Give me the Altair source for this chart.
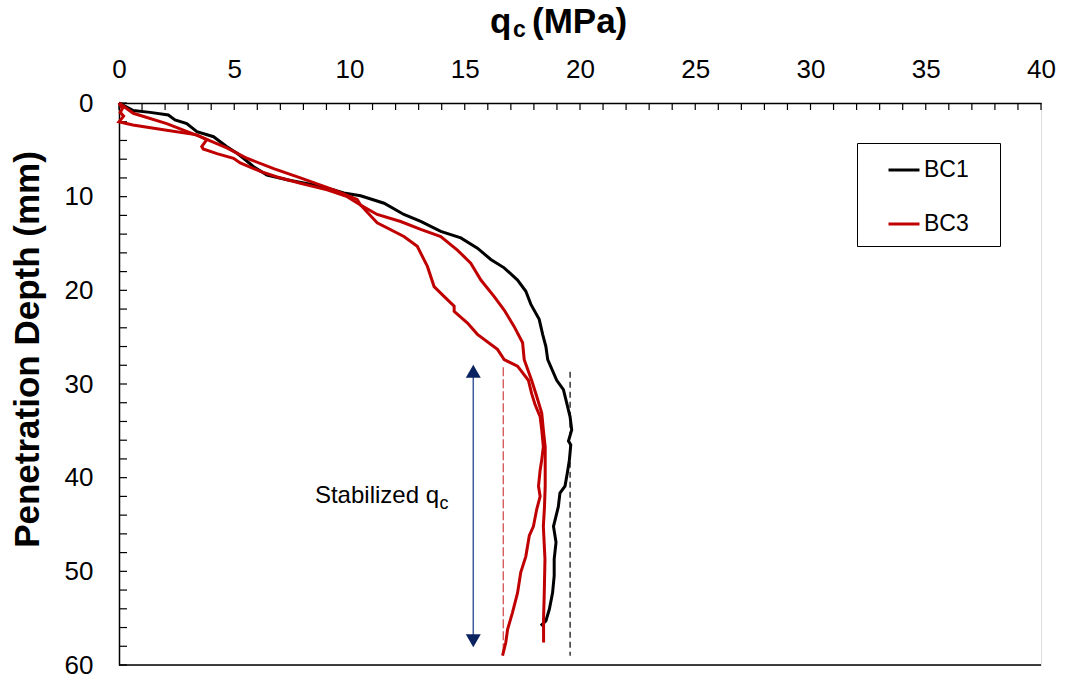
import altair as alt
import pandas as pd

# ---------------- data ----------------
bc1_q = [0, 0.62, 1.35, 2.14, 2.43, 2.94, 3.38, 4.1, 4.68, 5.12, 5.4, 5.84, 6.42, 7.29, 8.45,
         9.32, 9.75, 10.48, 11.5, 12.36, 13.09, 13.96, 14.83, 15.55, 16.13, 16.71, 17.29, 17.65,
         17.87, 18.23, 18.38, 18.52, 18.6, 18.99, 19.28, 19.42, 19.57, 19.64, 19.5, 19.6, 19.54,
         19.45, 19.35, 19.13, 19.06, 18.92, 18.85, 18.96, 18.88, 18.88, 18.81, 18.67, 18.52, 18.3]
bc1_depth = [0, 0.8, 1.0, 1.28, 1.8, 2.2, 3.06, 3.6, 4.66, 5.37, 5.9, 6.8, 7.7, 8.2, 8.74,
             9.27, 9.6, 9.9, 10.7, 11.9, 12.65, 13.7, 14.4, 15.5, 16.7, 17.6, 18.9, 20.1,
             21.5, 23.1, 24.7, 26.0, 27.4, 29.6, 30.6, 32.0, 33.5, 34.9, 36.1, 36.5, 38.1,
             39.5, 40.9, 41.65, 43.1, 44.5, 45.2, 46.9, 48.7, 50.5, 52.3, 54.05, 55.3, 55.8]

bc3a_q = [0, 0.62, 2.07, 3.52, 4.68, 5.55, 6.71, 7.87, 9.32, 10.33, 10.48, 11.2, 12.22, 13.09,
          13.96, 14.68, 15.26, 15.7, 16.27, 16.71, 17.14, 17.51, 17.58, 17.9, 18.12, 18.34, 18.41,
          18.49, 18.49, 18.49, 18.46, 18.41, 18.48, 18.45, 18.42, 18.42]
bc3a_depth = [0, 1.1, 2.2, 3.6, 4.8, 5.9, 7.0, 8.0, 9.27, 10.3, 10.9, 11.9, 12.65, 13.5,
              14.25, 15.7, 17.1, 18.9, 20.65, 22.1, 23.85, 25.6, 27.4, 29.6, 31.3, 33.1, 34.9,
              36.7, 38.8, 40.9, 43.1, 45.2, 48.7, 52.3, 55.0, 57.6]

bc3b_q = [0, 0.15, 0.05, 0.2, 0, 0.6, 2.07, 3.38, 3.81, 3.59, 3.65, 4.25, 4.97, 5.26, 6.13, 6.86,
          7.87, 9.03, 9.9, 10.48, 11.2, 12.36, 12.94, 13.38, 13.67, 14.1, 14.54, 14.54, 15.12,
          15.55, 16.42, 16.71, 17.29, 17.76, 17.9, 18.05, 18.27, 18.34, 18.41, 18.34, 18.27, 18.2,
          18.27, 18.12, 17.98, 17.8, 17.65, 17.43, 17.29, 17.07, 16.86, 16.78, 16.64]
bc3b_depth = [0, 0.6, 1.0, 1.4, 2.0, 2.35, 2.9, 3.4, 3.9, 4.66, 4.9, 5.4, 5.9, 6.4, 7.3, 7.9,
              8.56, 9.27, 10.0, 10.9, 12.8, 14.25, 15.3, 17.45, 19.6, 20.65, 21.7, 22.25, 23.5,
              24.7, 26.3, 27.4, 28.1, 29.6, 31.0, 32.2, 33.5, 34.9, 36.7, 38.1, 39.2, 40.9,
              42.0, 43.4, 45.2, 46.2, 48.4, 50.1, 52.3, 54.4, 56.2, 57.6, 59.0]

series_names = ["BC1", "BC3"]
series_colors = ["#000000", "#C00000"]

x_major = [0, 5, 10, 15, 20, 25, 30, 35, 40]
y_major = [0, 10, 20, 30, 40, 50, 60]
x_minor = list(range(0, 41, 1))
y_minor = list(range(0, 61, 2))

# stabilized-qc guide lines
red_guide_q = [16.67]
red_guide_top = [28.2]
red_guide_bottom = [59.0]
black_guide_q = [19.57]
black_guide_top = [28.7]
black_guide_bottom = [59.0]

arrow_q = [15.37]
arrow_top = [28.65]
arrow_bottom = [57.4]

ann_q = [8.5]
ann_depth = [42.7]
ann_sub_q = [13.9]
ann_sub_depth = [43.3]

# ---------------- build tables ----------------
rows = []
for run, s, qs, ds in [("BC1", "BC1", bc1_q, bc1_depth),
                       ("BC3a", "BC3", bc3a_q, bc3a_depth),
                       ("BC3b", "BC3", bc3b_q, bc3b_depth)]:
    for i, (q, d) in enumerate(zip(qs, ds)):
        rows.append({"run": run, "series": s, "i": i, "q": q, "depth": d})
df = pd.DataFrame(rows)

FONT = "Liberation Sans"
W, H = 922, 562

xscale = alt.Scale(domain=[0, 40], nice=False, zero=False)
yscale = alt.Scale(domain=[0, 60], nice=False, zero=False, reverse=True)

xaxis = alt.Axis(orient="top", values=x_major, ticks=False, tickSize=0, labelPadding=26,
                 labelBaseline="alphabetic", labelFlush=False, labelOverlap=False,
                 labelFontSize=26, labelFont=FONT, labelColor="black",
                 domainColor="black", domainWidth=1.5, grid=False)
yaxis = alt.Axis(values=y_major, ticks=False, tickSize=0, labelPadding=26,
                 labelFlush=False, labelOverlap=False, labelFontSize=26, labelFont=FONT,
                 labelColor="black", domainColor="black", domainWidth=1.5, grid=False,
                 title="Penetration Depth (mm)", titleFont=FONT, titleFontSize=35,
                 titleFontWeight="bold", titleColor="black", titleAngle=270,
                 titleX=-81, titleY=246, titleAlign="center", titleBaseline="alphabetic")


def X(field):
    return alt.X(field, type="quantitative", scale=xscale, axis=xaxis, title=None)


def Y(field):
    return alt.Y(field, type="quantitative", scale=yscale, axis=yaxis,
                 title="Penetration Depth (mm)")


# inward ticks
xticks = alt.Chart(pd.DataFrame({"q": x_minor})).mark_rule(color="black", strokeWidth=1.2).encode(
    x=X("q"), y=alt.value(0), y2=alt.value(7))
yticks = alt.Chart(pd.DataFrame({"depth": y_minor})).mark_rule(color="black", strokeWidth=1.2).encode(
    y=Y("depth"), x=alt.value(0), x2=alt.value(8))

red_guide = alt.Chart(pd.DataFrame({"q": red_guide_q, "d1": red_guide_top, "d2": red_guide_bottom})).mark_rule(
    color="#D04040", strokeWidth=1.2, strokeDash=[9, 3]).encode(x=X("q"), y=Y("d1"), y2="d2")
black_guide = alt.Chart(pd.DataFrame({"q": black_guide_q, "d1": black_guide_top, "d2": black_guide_bottom})).mark_rule(
    color="#000000", strokeWidth=1.2, strokeDash=[6, 4]).encode(x=X("q"), y=Y("d1"), y2="d2")

arrow_df = pd.DataFrame({"q": arrow_q, "d1": arrow_top, "d2": arrow_bottom})
arrow_shaft = alt.Chart(arrow_df).mark_rule(color="#3E5A98", strokeWidth=1.5).encode(
    x=X("q"), y=Y("d1"), y2="d2")
arrow_up = alt.Chart(arrow_df).mark_point(shape="triangle-up", filled=True, size=225,
                                          color="#0B2461", opacity=1).encode(x=X("q"), y=Y("d1"))
arrow_down = alt.Chart(arrow_df).mark_point(shape="triangle-down", filled=True, size=225,
                                            color="#0B2461", opacity=1).encode(x=X("q"), y=Y("d2"))

lines = alt.Chart(df).mark_line(strokeWidth=3).encode(
    x=X("q"),
    y=Y("depth"),
    color=alt.Color("series:N",
                    scale=alt.Scale(domain=series_names, range=series_colors),
                    legend=alt.Legend(title=".", titleOrient="right", titleColor="white",
                                      titleFontSize=10, titlePadding=18,
                                      orient="none", legendX=738, legendY=40,
                                      padding=10, rowPadding=25, symbolOffset=20, labelOffset=3,
                                      labelFontSize=23, labelFont=FONT, labelColor="black",
                                      symbolType="stroke", symbolSize=961, symbolStrokeWidth=3,
                                      strokeColor="black", fillColor="white")),
    detail="run:N",
    order="i:Q",
)

ann = alt.Chart(pd.DataFrame({"q": ann_q, "depth": ann_depth, "t": ["Stabilized q"]})).mark_text(
    align="left", baseline="alphabetic", fontSize=24, font=FONT, color="black").encode(
    x=X("q"), y=Y("depth"), text="t:N")
ann_sub = alt.Chart(pd.DataFrame({"q": ann_sub_q, "depth": ann_sub_depth, "t": ["c"]})).mark_text(
    align="left", baseline="alphabetic", fontSize=18, font=FONT, color="black").encode(
    x=X("q"), y=Y("depth"), text="t:N")

# top title  q_c (MPa)
t1 = alt.Chart(pd.DataFrame({"t": ["q"]})).mark_text(
    align="left", baseline="alphabetic", fontSize=35, fontWeight="bold", font=FONT, color="black").encode(
    x=alt.value(371), y=alt.value(-70), text="t:N")
t2 = alt.Chart(pd.DataFrame({"t": ["c"]})).mark_text(
    align="left", baseline="alphabetic", fontSize=23, fontWeight="bold", font=FONT, color="black").encode(
    x=alt.value(394), y=alt.value(-66), text="t:N")
t3 = alt.Chart(pd.DataFrame({"t": ["(MPa)"]})).mark_text(
    align="left", baseline="alphabetic", fontSize=35, fontWeight="bold", font=FONT, color="black").encode(
    x=alt.value(413), y=alt.value(-70), text="t:N")

bottom_border = alt.Chart(pd.DataFrame({"a": [0]})).mark_rule(color="black", strokeWidth=1.5).encode(
    x=alt.value(0), x2=alt.value(W), y=alt.value(H))

chart = alt.layer(
    xticks, yticks, red_guide, black_guide, arrow_shaft, arrow_up, arrow_down,
    lines, ann, ann_sub, t1, t2, t3, bottom_border
).properties(
    width=W, height=H,
    padding={"left": 119, "top": 103, "right": 25, "bottom": 16},
    autosize=alt.AutoSizeParams(type="none"),
    background="white",
).configure_view(
    stroke="#8A8A8A", strokeWidth=1.5
).configure(font=FONT)

chart.save("out.html", embed_options={"renderer": "svg", "actions": False})
